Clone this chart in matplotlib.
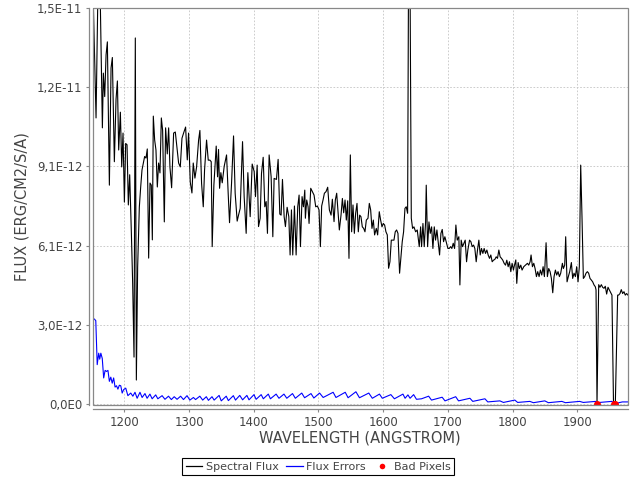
import numpy as np
import matplotlib
matplotlib.use('Agg')
from matplotlib import pyplot as plt
from matplotlib.ticker import FixedLocator, FuncFormatter
from matplotlib.patches import Rectangle
from matplotlib.lines import Line2D

# spectral flux (units of 1E-12 erg/cm2/s/A)
wave = [
    1151.5, 1156.3, 1159.9, 1162.5, 1166.1, 1167.6, 1169.7, 1171.8, 1173.8, 1176.9,
    1179.5, 1181.5, 1184.6, 1187.2, 1189.3, 1191.3, 1193.9, 1196.0, 1198.0, 1200.1,
    1202.1, 1204.2, 1206.2, 1208.3, 1210.9, 1212.9, 1215.0, 1217.0, 1218.6, 1220.6,
    1223.2, 1225.3, 1227.3, 1229.4, 1231.4, 1233.5, 1235.5, 1237.6, 1239.7, 1241.7,
    1243.3, 1244.8, 1246.9, 1248.9, 1251.0, 1253.0, 1255.1, 1257.2, 1259.2, 1261.8,
    1263.8, 1266.4, 1268.5, 1270.5, 1273.1, 1276.2, 1278.8, 1281.3, 1283.9, 1286.5,
    1289.1, 1291.6, 1294.7, 1297.3, 1299.3, 1301.9, 1304.5, 1306.5, 1309.1, 1311.7,
    1314.8, 1316.8,
    1319.4, 1322.0, 1324.0, 1327.1, 1329.7, 1332.3, 1334.3, 1335.8, 1338.4, 1342.0,
    1344.1, 1345.6, 1347.2, 1349.2, 1351.3, 1354.4, 1358.0, 1360.5, 1362.6, 1365.7,
    1368.8, 1371.3, 1374.4, 1376.5, 1379.1, 1382.7, 1385.2, 1388.3, 1390.9, 1394.5,
    1397.6, 1400.7, 1402.7, 1405.3, 1407.4, 1409.9, 1412.0, 1414.6, 1417.1, 1419.2,
    1421.2, 1423.8, 1426.9, 1429.5, 1431.5, 1435.1, 1437.7, 1440.3, 1442.3, 1444.4,
    1447.0, 1449.0, 1451.6, 1454.2, 1456.2, 1458.3, 1460.3, 1462.9, 1465.5, 1468.0,
    1470.1, 1472.2, 1474.7, 1476.8, 1478.9,
    1479.8, 1481.9, 1484.0, 1485.5, 1488.1, 1490.6, 1493.2, 1495.8, 1498.4, 1500.9,
    1503.0, 1505.0, 1507.1, 1509.2, 1511.7, 1514.3, 1516.9, 1519.5, 1521.5, 1524.1,
    1526.1, 1528.2, 1530.3, 1532.3, 1534.9, 1537.0, 1539.0, 1541.1, 1543.1, 1545.2,
    1547.2, 1549.3, 1551.3, 1553.4, 1555.5, 1557.5, 1559.6, 1561.6, 1563.7, 1565.7,
    1567.8, 1569.9, 1571.9, 1574.0, 1576.6, 1578.6, 1580.7, 1582.7, 1584.8, 1586.8,
    1589.4, 1591.5, 1594.0, 1596.1, 1598.2, 1600.2, 1602.3, 1604.3, 1606.4, 1608.4,
    1610.5, 1612.6, 1614.6, 1616.7, 1618.7, 1620.8, 1622.9, 1625.4, 1627.5, 1629.5,
    1631.6, 1633.7, 1635.7, 1637.8, 1639.6, 1641.4,
    1643.5, 1645.5, 1647.6, 1650.2, 1652.7, 1655.8, 1657.9, 1659.4, 1661.5, 1663.5,
    1665.6, 1666.6, 1668.7, 1670.8, 1672.8, 1674.9, 1676.9, 1679.0, 1681.0, 1683.1,
    1685.2, 1687.2, 1689.3, 1691.3, 1693.4, 1695.4, 1698.0, 1700.1, 1702.1, 1704.2,
    1706.2, 1708.3, 1710.4, 1712.4, 1714.5, 1717.0, 1718.6, 1720.6, 1722.7, 1724.8,
    1726.8, 1728.9, 1730.9, 1733.5, 1735.6, 1737.6, 1739.7, 1741.7, 1743.8, 1745.8,
    1747.9, 1750.0, 1752.0, 1754.1, 1756.1, 1758.2, 1760.3, 1762.3, 1764.4, 1766.4,
    1768.5, 1770.5, 1772.6, 1774.7, 1776.7, 1778.8, 1780.8, 1782.9, 1784.9, 1787.0,
    1789.1, 1791.1, 1793.2, 1795.2, 1797.3, 1799.3, 1801.4,
    1802.4, 1805.0, 1806.5, 1808.6, 1810.6, 1812.7, 1814.7, 1817.3, 1819.9, 1823.0,
    1825.0, 1827.1, 1828.6, 1830.7, 1832.8, 1834.8, 1836.9, 1838.9, 1841.0, 1843.0,
    1845.1, 1847.2, 1849.2, 1851.8, 1853.8, 1855.9, 1858.0, 1860.0, 1862.1, 1864.1,
    1866.2, 1868.2, 1870.3, 1872.4, 1874.4, 1877.0, 1878.5, 1880.6, 1882.1, 1884.2,
    1886.2, 1888.3, 1890.9, 1892.9, 1895.0, 1897.1, 1899.1, 1901.2, 1903.2, 1905.3,
    1907.3, 1909.4, 1911.5, 1913.5, 1915.6, 1917.6, 1919.7, 1921.7, 1923.8, 1925.9,
    1927.9, 1929.0, 1930.5, 1933.1, 1935.1, 1937.2, 1939.2, 1941.3, 1943.3, 1945.4,
    1947.5, 1949.5, 1951.6, 1953.6, 1956.0, 1958.8, 1962.4, 1963.9, 1966.0, 1968.0,
    1970.1, 1972.2, 1974.2, 1976.3, 1978.3,
]
flux = [
    16.0, 10.98, 17.0, 16.0, 10.6, 12.7, 11.8, 13.4, 13.9, 8.4,
    12.9, 13.3, 9.3, 11.7, 12.4, 9.75, 11.2, 9.1, 10.4, 7.75,
    10.0, 9.95, 7.64, 8.8, 6.56, 4.64, 1.8, 14.05, 0.92, 5.26,
    7.56, 8.33, 8.98, 9.25, 9.5, 9.44, 9.79, 5.6, 8.48, 8.4,
    6.3, 11.05, 10.13, 9.75, 8.33, 9.25, 8.87, 10.98, 10.5, 6.99,
    10.6, 9.6, 10.6, 9.1, 8.3, 10.4, 10.44, 9.86, 9.25, 9.1,
    10.2, 10.4, 10.63, 9.37, 10.4, 8.52, 8.1, 9.25, 8.67, 9.1,
    10.13, 10.5,
    8.47, 7.57, 8.98, 10.13, 9.36, 9.36, 9.3, 6.04, 8.4, 9.9,
    8.72, 9.77, 8.28, 8.88, 8.49, 9.13, 9.56, 8.09, 6.96, 8.47,
    10.29, 8.09, 7.02, 7.25, 7.51, 10.07, 7.96, 6.55, 8.88, 7.19,
    9.21, 8.92, 7.96, 9.17, 6.81, 7.13, 8.85, 9.47, 7.57, 7.77,
    6.55, 9.56, 8.72, 6.42, 8.66, 8.62, 9.39, 7.29, 7.25, 8.62,
    7.19, 6.81, 7.55, 7.19, 5.72, 7.45, 5.72, 7.6, 5.72, 7.57,
    8.02, 6.04, 7.96, 7.57, 8.21,
    7.13, 7.83, 7.57, 6.93, 8.28, 8.15, 8.02, 7.57, 7.6, 7.45,
    6.04, 7.6, 7.83, 8.09, 8.15, 8.32, 7.45, 7.25, 7.86, 7.0,
    7.83, 8.09, 7.34, 6.68, 7.25, 7.89, 7.34, 7.83, 7.06, 7.8,
    5.59, 9.56, 6.61, 7.64, 6.55, 7.32, 7.7, 6.61, 7.25, 7.19,
    6.8, 6.74, 6.61, 7.06, 7.13, 7.7, 7.45, 6.74, 7.06, 6.49,
    6.74, 6.49, 7.38, 7.06, 6.8, 6.93, 6.87, 6.61, 6.49, 5.21,
    5.46, 6.29, 6.29, 6.29, 6.61, 6.68, 6.55, 5.02, 5.65, 6.23,
    6.61, 7.51, 7.57, 7.32, 19.0, 17.0,
    7.13, 6.74, 6.8, 6.61, 6.68, 6.04, 6.8, 6.04, 6.93, 6.04,
    6.99, 8.4, 6.04, 6.99, 6.55, 6.8, 5.97, 6.8, 6.29, 6.68,
    6.17, 5.72, 6.55, 6.7, 6.23, 6.42, 6.17, 5.97, 5.97, 6.04,
    5.97, 6.17, 5.97, 6.87, 6.29, 6.42, 4.57, 6.29, 6.04, 6.17,
    6.29, 5.46, 5.91, 6.29, 6.23, 6.04, 6.1, 5.97, 5.46, 5.91,
    6.29, 5.72, 5.97, 5.78, 5.97, 5.78, 5.91, 5.72, 5.59, 5.72,
    5.46, 5.52, 5.55, 5.65, 5.59, 5.91, 5.65, 5.59, 5.52, 5.4,
    5.33, 5.52, 5.27, 5.46, 5.08, 5.4, 5.14,
    5.27, 5.53, 4.63, 5.43, 5.2, 5.33, 5.14, 5.27, 5.33, 5.4,
    5.33, 5.46, 5.72, 5.27, 5.4, 5.2, 4.89, 5.08, 4.89, 5.14,
    4.95, 5.27, 4.89, 6.19, 4.89, 5.2, 5.08, 4.82, 4.27, 4.89,
    5.14, 4.95, 5.08, 4.89, 5.02, 5.4, 5.2, 5.33, 6.42, 4.69,
    4.89, 5.08, 5.43, 4.82, 5.02, 4.89, 5.27, 4.69, 5.27, 9.17,
    7.19, 4.82, 4.89, 5.02, 5.08, 5.02, 4.82, 4.76, 4.69, 4.57,
    4.5, 4.38, 0.0, 4.58, 4.48, 4.58, 4.48, 4.44, 4.52, 4.22,
    4.48, 4.38, 4.27, 4.18, 0.0, 0.0, 4.18, 4.18, 4.24, 4.39,
    4.24, 4.31, 4.18, 4.24, 4.18,
]

# flux errors
wave_err = [
    1153.7, 1155.9, 1158.1, 1160.4, 1162.0, 1163.7, 1165.9, 1168.1, 1170.3, 1172.5,
    1174.7, 1176.9, 1179.1, 1181.3, 1183.5, 1185.7, 1187.9, 1190.1, 1192.3, 1194.5,
    1196.7, 1198.9, 1202.2, 1205.5, 1209.9, 1213.2, 1216.5, 1219.8, 1224.2, 1227.5,
    1231.9, 1235.2, 1239.6, 1243.0, 1248.5, 1251.8, 1258.4, 1262.8, 1268.3, 1272.7,
    1277.1, 1281.5, 1287.0, 1291.4, 1296.9, 1301.3, 1306.8, 1310.1, 1316.7, 1321.1,
    1326.7, 1330.0, 1335.5, 1338.8, 1346.5, 1349.8, 1357.5, 1360.8, 1368.5, 1371.8,
    1378.4, 1382.8, 1389.4, 1392.7, 1400.4, 1403.7, 1411.5, 1414.8, 1422.5, 1425.8,
    1434.6, 1439.0, 1446.7, 1451.1, 1459.9, 1464.3, 1474.2, 1478.6, 1488.5, 1492.9,
    1501.8, 1507.3, 1522.7, 1527.1, 1541.4, 1545.8, 1557.9, 1563.4, 1577.8, 1583.3,
    1594.3, 1598.7, 1611.9, 1617.4, 1630.6, 1633.9, 1638.3, 1641.6, 1647.1, 1651.5,
    1659.3, 1670.3, 1674.7, 1691.2, 1695.6, 1712.1, 1716.5, 1734.1, 1738.5, 1757.3,
    1761.7, 1780.4, 1785.9, 1803.5, 1807.9, 1826.7, 1832.2, 1849.8, 1855.3, 1876.2,
    1881.7, 1903.7, 1909.3, 1928.5, 1930.5, 1934.6, 1953.3, 1958.8, 1964.3, 1969.8,
    1980.8,
]
err = [
    3.26, 3.2, 1.51, 1.95, 1.72, 1.95, 1.75, 1.0, 1.29, 1.25,
    1.29, 0.87, 1.03, 0.8, 1.0, 0.65, 0.7, 0.57, 0.72, 0.7,
    0.42, 0.55, 0.61, 0.32, 0.42, 0.3, 0.45, 0.22, 0.45, 0.25,
    0.4, 0.22, 0.38, 0.2, 0.35, 0.2, 0.32, 0.18, 0.3, 0.17,
    0.28, 0.18, 0.3, 0.17, 0.32, 0.15, 0.25, 0.17, 0.3, 0.15,
    0.28, 0.14, 0.28, 0.15, 0.33, 0.12, 0.3, 0.13, 0.32, 0.15,
    0.33, 0.16, 0.33, 0.16, 0.36, 0.18, 0.36, 0.2, 0.38, 0.2,
    0.38, 0.22, 0.38, 0.22, 0.4, 0.22, 0.42, 0.24, 0.4, 0.23,
    0.42, 0.25, 0.45, 0.25, 0.45, 0.24, 0.47, 0.24, 0.42, 0.22,
    0.38, 0.22, 0.36, 0.2, 0.38, 0.22, 0.35, 0.22, 0.36, 0.18,
    0.2, 0.3, 0.15, 0.26, 0.12, 0.28, 0.12, 0.22, 0.1, 0.2,
    0.08, 0.12, 0.06, 0.15, 0.06, 0.1, 0.05, 0.12, 0.05, 0.1,
    0.05, 0.1, 0.06, 0.1, 0.0, 0.06, 0.1, 0.0, 0.05, 0.08,
    0.08,
]

# bad pixels
bad_wave = [1930.5, 1956.0, 1958.8]
bad_flux = [0.0, 0.0, 0.0]

x_ticks = [1200, 1300, 1400, 1500, 1600, 1700, 1800, 1900]
y_ticks = [0.0, 3.04, 6.08, 9.12, 12.16, 15.2]

UNIT = 1e-12
TEXT = '#444444'
AXIS = '#888888'


def sci_comma(v, pos):
    if abs(v) < 1e-20:
        return '0,0E0'
    e = int(np.floor(np.log10(abs(v))))
    m = v / 10 ** e
    return ('%.1f' % m).replace('.', ',') + 'E%d' % e


fig = plt.figure(figsize=(6.4, 4.8), dpi=100)
ax = fig.add_axes([93 / 640, 1 - 405 / 480, 535 / 640, 397 / 480])

ax.plot(wave, np.array(flux) * UNIT, color='black', lw=0.8, zorder=3)
ax.plot(wave_err, np.array(err) * UNIT, color='#0000ff', lw=0.8, zorder=3)
ax.plot(bad_wave, np.array(bad_flux) * UNIT, 'o', color='red', ms=5,
        mec='none', zorder=4)

ax.set_xlim(1151.6, 1978.4)
ax.set_ylim(-0.0384 * UNIT, 15.2 * UNIT)
ax.xaxis.set_major_locator(FixedLocator(x_ticks))
ax.yaxis.set_major_locator(FixedLocator([t * UNIT for t in y_ticks]))
ax.yaxis.set_major_formatter(FuncFormatter(sci_comma))

ax.grid(True, color='#c4c4c4', linestyle=(0, (2, 2)), lw=0.6)
ax.set_axisbelow(True)

for side in ['top', 'right']:
    ax.spines[side].set_visible(False)
for side in ['left', 'bottom']:
    ax.spines[side].set_position(('outward', 3))
    ax.spines[side].set_color(AXIS)
    ax.spines[side].set_linewidth(0.9)
ax.add_patch(Rectangle((0, 0), 1, 1, transform=ax.transAxes, fill=False,
                       edgecolor=AXIS, lw=0.9, clip_on=False, zorder=5))

ax.tick_params(axis='both', direction='out', length=2.2, width=0.8,
               color=AXIS, labelcolor=TEXT, labelsize=8.5, pad=2.5)

fig.text(360 / 640, 1 - 438 / 480, 'WAVELENGTH (ANGSTROM)', ha='center',
         va='center', fontsize=10.5, color=TEXT)
fig.text(22 / 640, 1 - 207 / 480, 'FLUX (ERG/CM2/S/A)', ha='center',
         va='center', rotation=90, fontsize=10.5, color=TEXT)

handles = [
    Line2D([], [], color='black', lw=0.9),
    Line2D([], [], color='#0000ff', lw=0.9),
    Line2D([], [], color='red', marker='o', ms=4, mec='none', ls='none'),
]
leg = fig.legend(handles, ['Spectral Flux', 'Flux Errors', 'Bad Pixels'],
                 loc='center', bbox_to_anchor=(318 / 640, 1 - 466.5 / 480),
                 ncol=3, fontsize=8, frameon=True, fancybox=False,
                 edgecolor='black', framealpha=1, handlelength=1.5,
                 handletextpad=0.3, columnspacing=0.7, borderpad=0.35,
                 borderaxespad=0)
leg.get_frame().set_linewidth(0.8)
for t in leg.get_texts():
    t.set_color(TEXT)

fig.savefig('out.png', dpi=100)
